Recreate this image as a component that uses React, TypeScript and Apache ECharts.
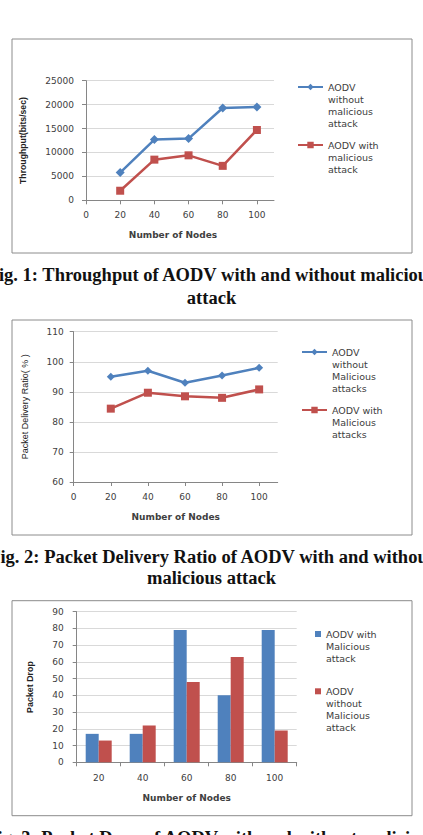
import React, { useEffect, useRef } from "react";
import * as echarts from "echarts";

const nodes = [20, 40, 60, 80, 100];
const dropCategories = ["20", "40", "60", "80", "100"];

const throughputWithout = [5800, 12700, 12900, 19300, 19500];
const throughputWith = [2000, 8500, 9400, 7200, 14700];

const pdrWithout = [95, 97, 93, 95.4, 98];
const pdrWith = [84.4, 89.7, 88.5, 88, 90.8];

const dropWith = [17, 17, 79, 40, 79];
const dropWithout = [13, 22, 48, 63, 19];

const names = {
  tpWithout: "AODV\nwithout\nmalicious\nattack",
  tpWith: "AODV with\nmalicious\nattack",
  pdrWithout: "AODV\nwithout\nMalicious\nattacks",
  pdrWith: "AODV with\nMalicious\nattacks",
  dropWith: "AODV with\nMalicious\nattack",
  dropWithout: "AODV\nwithout\nMalicious\nattack",
};

const captions = [
  { text: "Fig. 1: Throughput of AODV with and without malicious", y: 275 },
  { text: "attack", y: 298 },
  { text: "Fig. 2: Packet Delivery Ratio of AODV with and without", y: 556.7 },
  { text: "malicious attack", y: 578.3 },
  { text: "Fig. 3: Packet Drop of AODV with and without malicious", y: 838 },
];

const BLUE = "#4f81bd";
const RED = "#c0504d";
const AXIS = "#868686";
const GRID = "#d9d9d9";
const TXT = "#404040";
const LBL = { fontFamily: "DejaVu Sans", fontSize: 9, color: TXT };

function pairs(arr: number[]) {
  return nodes.map((n, i) => [n, arr[i]]);
}

function valueX(gridIndex: number, margin: number, nameGap: number, namePad: number[]) {
  return {
    type: "value",
    gridIndex,
    min: 0,
    max: 110,
    interval: 20,
    name: "Number of Nodes",
    nameLocation: "middle",
    nameGap,
    nameTextStyle: { fontFamily: "DejaVu Sans", fontWeight: "bold", fontSize: 9, color: TXT, padding: namePad },
    axisLine: { show: true, lineStyle: { color: AXIS, width: 1 } },
    axisTick: { show: true, length: 4, lineStyle: { color: AXIS } },
    axisLabel: { ...LBL, margin, showMaxLabel: false, formatter: (v: number) => String(v) },
    splitLine: { show: false },
  };
}

function valueY(gridIndex: number, min: number, max: number, interval: number, name: string, nameGap: number, nameStyle: any, margin: number) {
  return {
    type: "value",
    gridIndex,
    min,
    max,
    interval,
    name,
    nameLocation: "middle",
    nameGap,
    nameTextStyle: nameStyle,
    axisLine: { show: true, lineStyle: { color: AXIS, width: 1 } },
    axisTick: { show: true, length: 4, lineStyle: { color: AXIS } },
    axisLabel: { ...LBL, margin, formatter: (v: number) => String(v) },
    splitLine: { show: true, lineStyle: { color: GRID, width: 1 } },
  };
}

// The first text line sits on the icon: blank lines are prepended so that
// the (vertically centred) text block has its first real line in the middle.
function legendFor(name: string, left: number, center: number, lines: number, lh: number, lineIcon: boolean) {
  const pad = lines - 1;
  const total = lines + pad;
  return {
    data: [name],
    orient: "vertical",
    left,
    top: center - (total * lh) / 2,
    padding: 0,
    itemWidth: lineIcon ? 25 : 6,
    itemHeight: lineIcon ? 8 : 6,
    icon: lineIcon ? undefined : "rect",
    selectedMode: false,
    formatter: (n: string) => " \n".repeat(pad) + n,
    textStyle: { fontFamily: "DejaVu Sans", fontSize: 9.5, lineHeight: lh, color: TXT },
  };
}

export default function App() {
  const ref = useRef<HTMLDivElement>(null);
  useEffect(() => {
    if (!ref.current) return;
    const chart = echarts.init(ref.current, undefined, { renderer: "svg" });
    const option: any = {
      animation: false,
      backgroundColor: "#ffffff",
      grid: [
        { left: 86, top: 80.7, width: 188, height: 119.6 },
        { left: 73.7, top: 331.7, width: 204, height: 150.3 },
        { left: 76.7, top: 611.7, width: 220, height: 150.6 },
      ],
      xAxis: [
        valueX(0, 10, 30.5, [0, 14, 0, 0]),
        valueX(1, 10, 30, [0, 0, 0, 0]),
        {
          type: "category",
          gridIndex: 2,
          data: dropCategories,
          name: "Number of Nodes",
          nameLocation: "middle",
          nameGap: 30.7,
          nameTextStyle: { fontFamily: "DejaVu Sans", fontWeight: "bold", fontSize: 9, color: TXT },
          axisLine: { show: true, lineStyle: { color: AXIS, width: 1 } },
          axisTick: { show: true, length: 4, alignWithLabel: false, lineStyle: { color: AXIS } },
          axisLabel: { ...LBL, margin: 11 },
          splitLine: { show: false },
        },
      ],
      yAxis: [
        valueY(0, 0, 25000, 5000, "Throughput(bits/sec)", 59,
          { fontFamily: "Liberation Sans", fontWeight: "bold", fontSize: 8.7, color: "#222" }, 12),
        valueY(1, 60, 110, 10, "Packet Delivery Ratio( % )", 44.7,
          { fontFamily: "Liberation Sans", fontSize: 9, color: "#222" }, 10),
        valueY(2, 0, 90, 10, "Packet Drop", 42.7,
          { fontFamily: "Liberation Sans", fontWeight: "bold", fontSize: 8.9, color: "#222" }, 13),
      ],
      legend: [
        legendFor(names.tpWithout, 297, 87, 4, 12.3, true),
        legendFor(names.tpWith, 297, 145, 3, 12.3, true),
        legendFor(names.pdrWithout, 301, 352, 4, 12.2, true),
        legendFor(names.pdrWith, 301, 410, 3, 12.2, true),
        legendFor(names.dropWith, 315, 634, 3, 12, false),
        legendFor(names.dropWithout, 315, 691.3, 4, 12, false),
      ],
      series: [
        {
          name: names.tpWithout, type: "line", xAxisIndex: 0, yAxisIndex: 0,
          data: pairs(throughputWithout), symbol: "diamond", symbolSize: 9,
          itemStyle: { color: BLUE }, lineStyle: { color: BLUE, width: 2.5 },
        },
        {
          name: names.tpWith, type: "line", xAxisIndex: 0, yAxisIndex: 0,
          data: pairs(throughputWith), symbol: "rect", symbolSize: 8,
          itemStyle: { color: RED }, lineStyle: { color: RED, width: 2.5 },
        },
        {
          name: names.pdrWithout, type: "line", xAxisIndex: 1, yAxisIndex: 1,
          data: pairs(pdrWithout), symbol: "diamond", symbolSize: 8,
          itemStyle: { color: BLUE }, lineStyle: { color: BLUE, width: 2.5 },
        },
        {
          name: names.pdrWith, type: "line", xAxisIndex: 1, yAxisIndex: 1,
          data: pairs(pdrWith), symbol: "rect", symbolSize: 8,
          itemStyle: { color: RED }, lineStyle: { color: RED, width: 2.5 },
        },
        {
          name: names.dropWith, type: "bar", xAxisIndex: 2, yAxisIndex: 2,
          data: dropWith, barWidth: 13, barGap: "0%", itemStyle: { color: BLUE },
        },
        {
          name: names.dropWithout, type: "bar", xAxisIndex: 2, yAxisIndex: 2,
          data: dropWithout, barWidth: 13, barGap: "0%", itemStyle: { color: RED },
        },
      ],
      graphic: [
        { type: "rect", shape: { x: 12, y: 39, width: 400, height: 214 }, style: { fill: "none", stroke: "#8c8c8c", lineWidth: 1 }, silent: true },
        { type: "rect", shape: { x: 12, y: 320, width: 400, height: 215 }, style: { fill: "none", stroke: "#8c8c8c", lineWidth: 1 }, silent: true },
        { type: "rect", shape: { x: 12, y: 600.7, width: 400, height: 215 }, style: { fill: "none", stroke: "#8c8c8c", lineWidth: 1 }, silent: true },
        ...captions.map((c) => ({
          type: "text",
          x: 211.5,
          y: c.y,
          silent: true,
          style: {
            text: c.text,
            align: "center",
            verticalAlign: "middle",
            fontFamily: "Liberation Serif",
            fontWeight: "bold",
            fontSize: 18.5,
            fill: "#111",
          },
        })),
      ],
    };
    chart.setOption(option);
    return () => chart.dispose();
  }, []);
  return (
    <div
      ref={ref}
      style={{ position: "fixed", left: 0, top: 0, width: 423, height: 835, background: "#fff" }}
    />
  );
}
